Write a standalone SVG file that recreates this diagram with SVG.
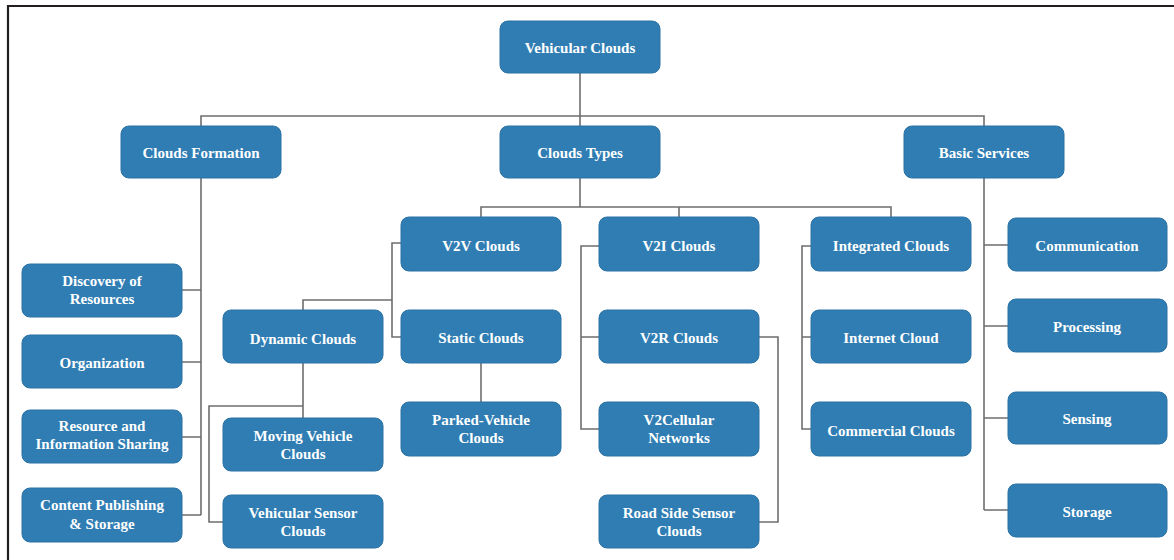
<svg xmlns="http://www.w3.org/2000/svg" width="1174" height="560" viewBox="0 0 1174 560">
<style>
.n rect{fill:#2F7DB3;stroke:#2B72A4;stroke-width:1}
.n text{fill:#fff;font-family:"Liberation Serif","Times New Roman",serif;font-weight:bold;font-size:15px;text-anchor:middle}
.c path{fill:none;stroke:#6E6E6E;stroke-width:1.6}
</style>
<rect width="1174" height="560" fill="#fff"/>
<path d="M8 560 V6 H1174" fill="none" stroke="#231F20" stroke-width="2.2"/>
<g class="c">
<path d="M580 73 V126"/>
<path d="M201 126 V116 H984 V126"/>
<path d="M201 178 V515 M182 290 H201 M182 362 H201 M182 437 H201 M182 515 H201"/>
<path d="M580 178 V207 M481 217 V207 H891 V217 M679 207 V217"/>
<path d="M401 243 H392 V337 H401 M392 300 H303 V310"/>
<path d="M481 363 V402"/>
<path d="M303 363 V418 M303 406 H209 V522 H223"/>
<path d="M599 246 H581 V429 H599 M581 337 H599"/>
<path d="M759 337 H778 V522 H759"/>
<path d="M811 246 H802 V429 H811 M802 337 H811"/>
<path d="M984 178 V510 M984 245 H1008 M984 326 H1008 M984 418 H1008 M984 510 H1008"/>
</g>
<g id="vehicular-clouds" class="n"><rect x="500" y="21" width="160" height="52" rx="8"/><text x="580" y="53">Vehicular Clouds</text></g>
<g id="clouds-formation" class="n"><rect x="121" y="126" width="160" height="52" rx="8"/><text x="201" y="158">Clouds Formation</text></g>
<g id="clouds-types" class="n"><rect x="500" y="126" width="160" height="52" rx="8"/><text x="580" y="158">Clouds Types</text></g>
<g id="basic-services" class="n"><rect x="904" y="126" width="160" height="52" rx="8"/><text x="984" y="158">Basic Services</text></g>
<g id="discovery" class="n"><rect x="22" y="264" width="160" height="53" rx="8"/><text x="102" y="286">Discovery of</text><text x="102" y="304">Resources</text></g>
<g id="organization" class="n"><rect x="22" y="335" width="160" height="53" rx="8"/><text x="102" y="368">Organization</text></g>
<g id="resource-sharing" class="n"><rect x="22" y="410" width="160" height="53" rx="8"/><text x="102" y="431">Resource and</text><text x="102" y="449">Information Sharing</text></g>
<g id="content-publishing" class="n"><rect x="22" y="488" width="160" height="54" rx="8"/><text x="102" y="510">Content Publishing</text><text x="102" y="529">&amp; Storage</text></g>
<g id="v2v" class="n"><rect x="401" y="217" width="160" height="54" rx="8"/><text x="481" y="251">V2V Clouds</text></g>
<g id="static" class="n"><rect x="401" y="310" width="160" height="53" rx="8"/><text x="481" y="343">Static Clouds</text></g>
<g id="dynamic" class="n"><rect x="223" y="310" width="160" height="53" rx="8"/><text x="303" y="344">Dynamic Clouds</text></g>
<g id="moving-vehicle" class="n"><rect x="223" y="418" width="160" height="53" rx="8"/><text x="303" y="441">Moving Vehicle</text><text x="303" y="459">Clouds</text></g>
<g id="vehicular-sensor" class="n"><rect x="223" y="495" width="160" height="53" rx="8"/><text x="303" y="518">Vehicular Sensor</text><text x="303" y="536">Clouds</text></g>
<g id="parked-vehicle" class="n"><rect x="401" y="402" width="160" height="54" rx="8"/><text x="481" y="425">Parked-Vehicle</text><text x="481" y="443">Clouds</text></g>
<g id="v2i" class="n"><rect x="599" y="217" width="160" height="54" rx="8"/><text x="679" y="251">V2I Clouds</text></g>
<g id="v2r" class="n"><rect x="599" y="310" width="160" height="53" rx="8"/><text x="679" y="343">V2R Clouds</text></g>
<g id="v2cellular" class="n"><rect x="599" y="402" width="160" height="54" rx="8"/><text x="679" y="425">V2Cellular</text><text x="679" y="443">Networks</text></g>
<g id="road-side" class="n"><rect x="599" y="495" width="160" height="53" rx="8"/><text x="679" y="518">Road Side Sensor</text><text x="679" y="536">Clouds</text></g>
<g id="integrated" class="n"><rect x="811" y="217" width="160" height="54" rx="8"/><text x="891" y="251">Integrated Clouds</text></g>
<g id="internet" class="n"><rect x="811" y="310" width="160" height="53" rx="8"/><text x="891" y="343">Internet Cloud</text></g>
<g id="commercial" class="n"><rect x="811" y="402" width="160" height="54" rx="8"/><text x="891" y="436">Commercial Clouds</text></g>
<g id="communication" class="n"><rect x="1008" y="218" width="159" height="53" rx="8"/><text x="1087" y="251">Communication</text></g>
<g id="processing" class="n"><rect x="1008" y="299" width="159" height="53" rx="8"/><text x="1087" y="332">Processing</text></g>
<g id="sensing" class="n"><rect x="1008" y="392" width="159" height="52" rx="8"/><text x="1087" y="424">Sensing</text></g>
<g id="storage" class="n"><rect x="1008" y="484" width="159" height="53" rx="8"/><text x="1087" y="517">Storage</text></g>
</svg>
